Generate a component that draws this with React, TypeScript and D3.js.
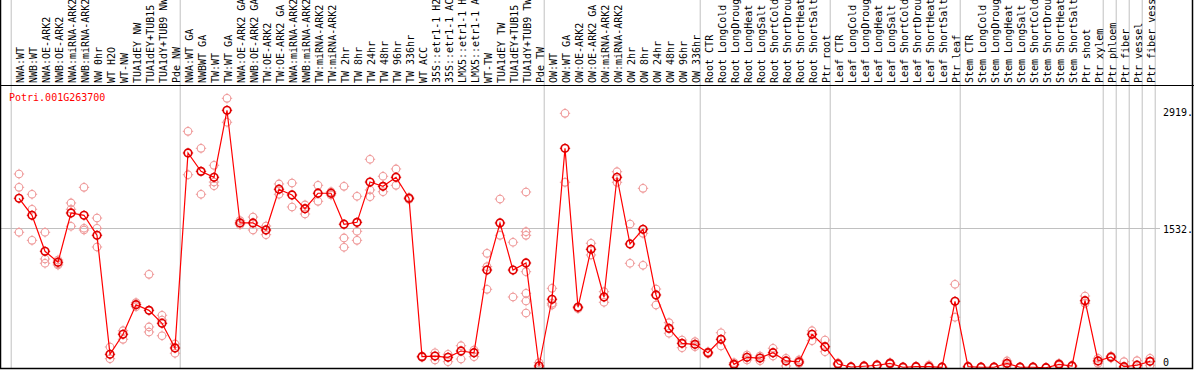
import { useEffect, useRef } from "react";
import * as d3 from "d3";

const GENE = "Potri.001G263700";

const CATEGORIES = [
  "NWA:WT", "NWB:WT", "NWA:OE-ARK2", "NWB:OE-ARK2", "NWA:miRNA-ARK2", "NWB:miRNA-ARK2",
  "NW 0hr", "WT H2O", "WT-NW", "TUA1dEY NW", "TUA1dEY+TUB15 NW", "TUA1dY+TUB9 NW", "Pde NW",
  "NWA:WT GA", "NWBWT GA", "TW:WT", "TW:WT GA", "NWA:OE-ARK2 GA", "NWB:OE-ARK2 GA",
  "TW:OE-ARK2", "TW:OE-ARK2 GA", "NWA:miRNA-ARK2", "NWB:miRNA-ARK2", "TW:miRNA-ARK2",
  "TW:miRNA-ARK2", "TW 2hr", "TW 8hr", "TW 24hr", "TW 48hr", "TW 96hr", "TW 336hr", "WT ACC",
  "35S::etr1-1 H2O", "35S::etr1-1 ACC", "LMX5::etr1-1 H2O", "LMX5::etr1-1 ACC", "WT-TW",
  "TUA1dEY TW", "TUA1dEY+TUB15 TW", "TUA1dY+TUB9 TW", "Pde TW",
  "OW:WT", "OW:WT GA", "OW:OE-ARK2", "OW:OE-ARK2 GA", "OW:miRNA-ARK2", "OW:miRNA-ARK2",
  "OW 2hr", "OW 8hr", "OW 24hr", "OW 48hr", "OW 96hr", "OW 336hr",
  "Root CTR", "Root LongCold", "Root LongDrought", "Root LongHeat", "Root LongSalt",
  "Root ShortCold", "Root ShortDrought", "Root ShortHeat", "Root ShortSalt", "Ptr root",
  "Leaf CTR", "Leaf LongCold", "Leaf LongDrought", "Leaf LongHeat", "Leaf LongSalt",
  "Leaf ShortCold", "Leaf ShortDrought", "Leaf ShortHeat", "Leaf ShortSalt", "Ptr leaf",
  "Stem CTR", "Stem LongCold", "Stem LongDrought", "Stem LongHeat", "Stem LongSalt",
  "Stem ShortCold", "Stem ShortDrought", "Stem ShortHeat", "Stem ShortSalt", "Ptr shoot",
  "Ptr xylem", "Ptr phloem", "Ptr fiber", "Ptr vessel", "Ptr fiber vessel",
];

const MEANS = [
  1857, 1671, 1277, 1157, 1696, 1671, 1452, 150, 369, 693, 631, 489, 219,
  2353, 2152, 2087, 2820, 1587, 1587, 1510, 1956, 1893, 1743, 1912, 1912, 1573, 1594,
  2035, 1988, 2087, 1857, 124, 131, 117, 186, 167, 1072, 1587, 1072, 1149, 22,
  752, 2404, 664, 1299, 777, 2087, 1357, 1518, 799, 434, 270, 259,
  167, 314, 40, 117, 109, 167, 77, 66, 369, 233,
  44, 11, 19, 30, 51, 8, 14, 14, 8, 730,
  14, 8, 8, 51, 8, 8, 3, 40, 22, 736,
  77, 120, 14, 30, 73,
];

const REPLICATES = [
  [2123, 1977, 1485], [1901, 1737, 1397], [1485, 1193, 1146], [1182, 1138, 1127],
  [1806, 1737, 1551], [1977, 1529, 1510], [1641, 1529, 1324], [230, 102], [408, 314],
  [715, 671], [1025, 449, 394], [577, 525, 353], [263, 161],
  [2590, 2115], [2404, 1901], [2218, 2035, 1995], [2951, 2689], [1612, 1568], [1652, 1510],
  [1554, 1459], [2014, 1901], [2024, 1762], [1784, 1685], [1999, 1824], [1929, 1893],
  [1988, 1423, 1321], [1879, 1496, 1397], [2284, 1948, 1875], [2098, 1929], [2178, 1999],
  [1868, 1846], [131, 117], [167, 88], [150, 69], [244, 98], [197, 124],
  [1255, 1109, 861], [1849, 1452], [1376, 777], [1926, 1492, 1452, 1054, 817, 733, 602], [58, 0],
  [872, 708, 689], [2787, 2032], [671, 649], [1365, 1237], [835, 719], [2148, 2032],
  [1576, 1146], [1966, 1474, 1124], [864, 689], [496, 380], [306, 222], [288, 233],
  [178, 156], [386, 241], [58, 30], [142, 88], [131, 80], [216, 131], [106, 22], [88, 51],
  [408, 299], [306, 178],
  [55, 33], [16, 6], [25, 12], [38, 22], [60, 42], [12, 4], [20, 8], [33, 5], [12, 4], [916, 555],
  [20, 8], [12, 4], [12, 4], [77, 25], [12, 4], [12, 4], [6, 0], [52, 28], [30, 14], [788, 708],
  [106, 51], [131, 109], [69, 0], [80, 0], [106, 30],
];

// index where each tissue group starts (vertical separators)
const GROUP_STARTS = [0, 13, 41, 53, 63, 73, 84, 85, 86, 87, 88];

const Y_MAX = 3064;
const Y_TICKS = [2919, 1532, 0];
const Y_TICK_LABELS = ["2919.", "1532.", "0"];
const GRID_VALUES = [1532];

const W = 1194;
const H = 370;
const FONT = "'DejaVu Sans Mono', monospace";

export default function App() {
  const svgRef = useRef<SVGSVGElement | null>(null);

  useEffect(() => {
    const svg = svgRef.current;
    if (!svg) return;
    svg.innerHTML = "";

    const labelBottom = 85;
    const plotBottom = 368;
    const plotRight = 1160;

    const x = d3
      .scaleLinear()
      .domain([0, CATEGORIES.length - 1])
      .range([19, 19 + 13 * (CATEGORIES.length - 1)]);
    const y = d3.scaleLinear().domain([0, Y_MAX]).range([plotBottom, labelBottom + 3]);

    const root = d3.select(svg).attr("width", W).attr("height", H);

    root.append("rect").attr("width", W).attr("height", H).attr("fill", "#fff");

    root
      .append("defs")
      .append("clipPath")
      .attr("id", "plotclip")
      .append("rect")
      .attr("x", 1)
      .attr("y", labelBottom)
      .attr("width", plotRight)
      .attr("height", plotBottom - labelBottom);

    // group separators
    root
      .selectAll(".sep")
      .data(GROUP_STARTS)
      .join("line")
      .attr("x1", (i) => x(i - 0.6))
      .attr("x2", (i) => x(i - 0.6))
      .attr("y1", 0)
      .attr("y2", plotBottom)
      .attr("stroke", "#c0c0c0")
      .attr("stroke-width", 1);

    // horizontal gridline
    root
      .selectAll(".grid")
      .data(GRID_VALUES)
      .join("line")
      .attr("x1", 0)
      .attr("x2", plotRight)
      .attr("y1", (v) => Math.round(y(v)) + 0.5)
      .attr("y2", (v) => Math.round(y(v)) + 0.5)
      .attr("stroke", "#c0c0c0");

    // category labels
    root
      .selectAll(".cat")
      .data(CATEGORIES)
      .join("text")
      .attr("transform", (_, i) => `translate(${x(i) + 1},${labelBottom - 2}) rotate(-90)`)
      .attr("dominant-baseline", "central")
      .attr("text-anchor", "start")
      .style("font-family", FONT)
      .style("font-size", "10px")
      .attr("fill", "#000")
      .text((d) => d);

    // y tick labels
    const yTop = y(Y_MAX) + 24;
    const yBot = y(0) - 6;
    root
      .selectAll(".ytick")
      .data(Y_TICKS)
      .join("text")
      .attr("x", plotRight + 3)
      .attr("y", (v) => Math.max(yTop, Math.min(yBot, y(v) + 1)))
      .attr("dominant-baseline", "central")
      .style("font-family", FONT)
      .style("font-size", "10px")
      .attr("fill", "#000")
      .text((_, i) => Y_TICK_LABELS[i]);

    // gene title
    root
      .append("text")
      .attr("x", 9)
      .attr("y", 97)
      .attr("dominant-baseline", "central")
      .style("font-family", FONT)
      .style("font-size", "10px")
      .attr("fill", "#ff0000")
      .text(GENE);

    const plot = root.append("g").attr("clip-path", "url(#plotclip)");

    const marker = (g: d3.Selection<SVGGElement, unknown, null, undefined>, cx: number, cy: number, color: string, sw: number) => {
      const m = g.append("g").attr("transform", `translate(${cx},${cy})`);
      m.append("circle").attr("r", 3.8).attr("fill", "none").attr("stroke", color).attr("stroke-width", sw);
      [0, 90, 180, 270].forEach((a) => {
        const r = (a * Math.PI) / 180;
        m.append("line")
          .attr("x1", Math.cos(r) * 3.5)
          .attr("y1", Math.sin(r) * 3.5)
          .attr("x2", Math.cos(r) * 5.2)
          .attr("y2", Math.sin(r) * 5.2)
          .attr("stroke", color)
          .attr("stroke-width", 1);
      });
    };

    // replicate points
    const repG = plot.append("g");
    REPLICATES.forEach((reps, i) => {
      reps.forEach((v) => marker(repG as any, x(i), y(v), "#ef9a9a", 1.1));
    });

    // mean line
    const line = d3
      .line<number>()
      .x((_, i) => x(i))
      .y((v) => y(v));
    plot
      .append("path")
      .datum(MEANS)
      .attr("d", line)
      .attr("fill", "none")
      .attr("stroke", "#ff0000")
      .attr("stroke-width", 1.2);

    // mean points
    const meanG = plot.append("g");
    MEANS.forEach((v, i) => marker(meanG as any, x(i), y(v), "#e00000", 1.7));

    // frame
    root
      .append("line")
      .attr("x1", 0).attr("x2", W)
      .attr("y1", labelBottom + 0.5).attr("y2", labelBottom + 0.5)
      .attr("stroke", "#000");
    root
      .append("rect")
      .attr("x", 0.5).attr("y", -1)
      .attr("width", W - 2).attr("height", plotBottom + 1.5)
      .attr("fill", "none")
      .attr("stroke", "#000")
      .attr("stroke-width", 1.5);
  }, []);

  return (
    <div style={{ position: "absolute", left: 0, top: 0 }}>
      <svg ref={svgRef} role="img" aria-label="Expression chart" />
    </div>
  );
}
